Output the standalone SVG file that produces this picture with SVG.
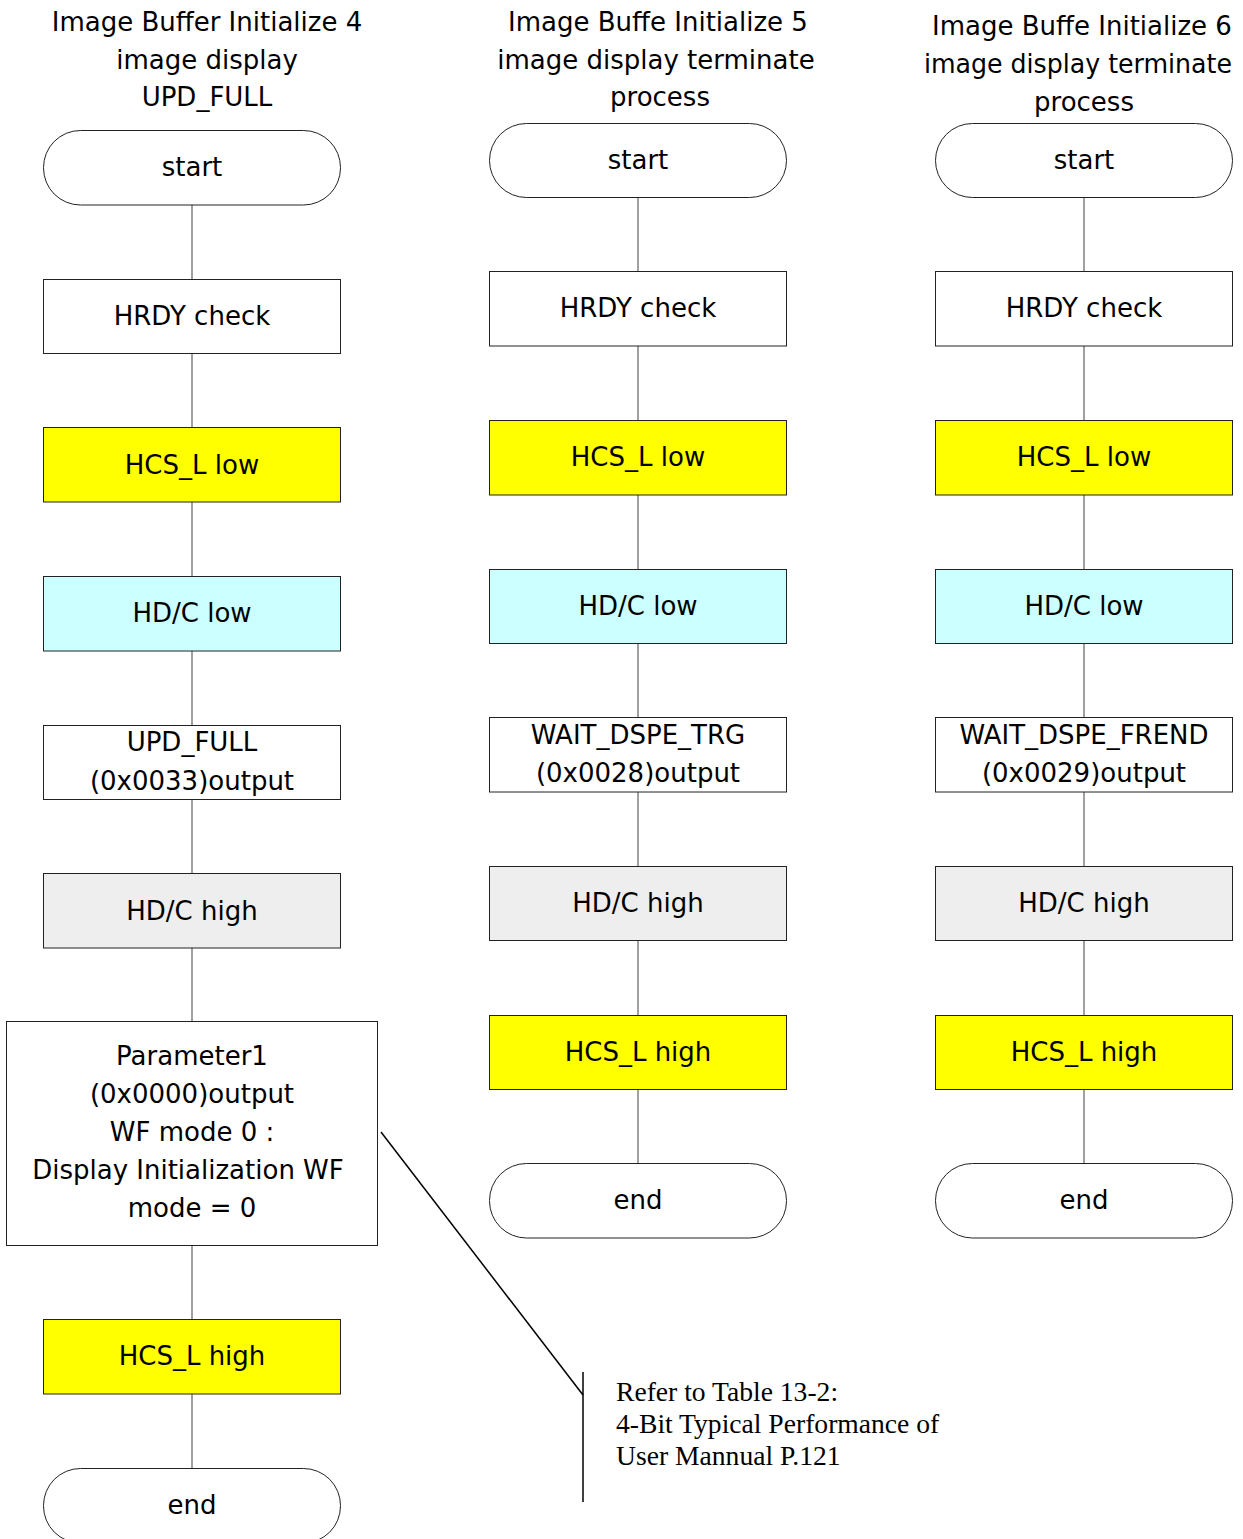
<svg xmlns="http://www.w3.org/2000/svg" width="1243" height="1539" viewBox="0 0 1243 1539">
<style>
.t{font-family:"DejaVu Sans","Liberation Sans",sans-serif;font-size:26px;fill:#000;text-anchor:middle;dominant-baseline:central}
.n{font-family:"Liberation Serif",serif;font-size:27.6px;fill:#000}
.b{stroke:#222;stroke-width:1}
.w{fill:#fff}
.y{fill:#ffff00}
.c{fill:#ccffff}
.g{fill:#eeeeee}
.con line{stroke:#808080;stroke-width:1.5}
</style>
<rect width="1243" height="1539" fill="#fff"/>
<g id="titles">
<text class="t" x="207" y="22">Image Buffer Initialize 4</text>
<text class="t" x="207" y="60">image display</text>
<text class="t" x="207" y="97">UPD_FULL</text>
<text class="t" x="658" y="22">Image Buffe Initialize 5</text>
<text class="t" x="656" y="60">image display terminate</text>
<text class="t" x="660" y="97">process</text>
<text class="t" x="1082" y="26">Image Buffe Initialize 6</text>
<text class="t" x="1078" y="64" textLength="308" lengthAdjust="spacingAndGlyphs">image display terminate</text>
<text class="t" x="1084" y="102">process</text>
</g>
<g class="con" id="connectors">
<line x1="192" y1="205" x2="192" y2="279"/>
<line x1="192" y1="353" x2="192" y2="427"/>
<line x1="192" y1="502" x2="192" y2="576"/>
<line x1="192" y1="651" x2="192" y2="725"/>
<line x1="192" y1="799" x2="192" y2="873"/>
<line x1="192" y1="948" x2="192" y2="1021"/>
<line x1="192" y1="1245" x2="192" y2="1319"/>
<line x1="192" y1="1394" x2="192" y2="1468"/>
<line x1="638" y1="197" x2="638" y2="271"/>
<line x1="638" y1="346" x2="638" y2="420"/>
<line x1="638" y1="495" x2="638" y2="569"/>
<line x1="638" y1="643" x2="638" y2="717"/>
<line x1="638" y1="792" x2="638" y2="866"/>
<line x1="638" y1="940" x2="638" y2="1015"/>
<line x1="638" y1="1089" x2="638" y2="1163"/>
<line x1="1084" y1="197" x2="1084" y2="271"/>
<line x1="1084" y1="346" x2="1084" y2="420"/>
<line x1="1084" y1="495" x2="1084" y2="569"/>
<line x1="1084" y1="643" x2="1084" y2="717"/>
<line x1="1084" y1="792" x2="1084" y2="866"/>
<line x1="1084" y1="940" x2="1084" y2="1015"/>
<line x1="1084" y1="1089" x2="1084" y2="1163"/>
</g>
<g id="c1-start"><rect class="b w" x="43.5" y="130.5" width="297" height="74.5" rx="37" ry="37"/><text class="t" x="192" y="167">start</text></g>
<g id="c1-hrdy"><rect class="b w" x="43.5" y="279.5" width="297" height="74"/><text class="t" x="192" y="316">HRDY check</text></g>
<g id="c1-hcslow"><rect class="b y" x="43.5" y="427.5" width="297" height="74.5"/><text class="t" x="192" y="465">HCS_L low</text></g>
<g id="c1-hdclow"><rect class="b c" x="43.5" y="576.5" width="297" height="74.5"/><text class="t" x="192" y="613">HD/C low</text></g>
<g id="c1-upd"><rect class="b w" x="43.5" y="725.5" width="297" height="74"/><text class="t" x="192" y="742">UPD_FULL</text><text class="t" x="192" y="781">(0x0033)output</text></g>
<g id="c1-hdchigh"><rect class="b g" x="43.5" y="873.5" width="297" height="74.5"/><text class="t" x="192" y="911">HD/C high</text></g>
<g id="c1-param"><rect class="b w" x="6.5" y="1021.5" width="371" height="224"/>
<text class="t" x="192" y="1056">Parameter1</text>
<text class="t" x="192" y="1094">(0x0000)output</text>
<text class="t" x="192" y="1132">WF mode 0 :</text>
<text class="t" x="188" y="1170">Display Initialization WF</text>
<text class="t" x="192" y="1208">mode = 0</text></g>
<g id="c1-hcshigh"><rect class="b y" x="43.5" y="1319.5" width="297" height="74.5"/><text class="t" x="192" y="1356">HCS_L high</text></g>
<g id="c1-end"><rect class="b w" x="43.5" y="1468.5" width="297" height="74.5" rx="37" ry="37"/><text class="t" x="192" y="1505">end</text></g>

<g id="c2-start"><rect class="b w" x="489.5" y="123.5" width="297" height="74" rx="37" ry="37"/><text class="t" x="638" y="160">start</text></g>
<g id="c2-hrdy"><rect class="b w" x="489.5" y="271.5" width="297" height="74.5"/><text class="t" x="638" y="308">HRDY check</text></g>
<g id="c2-hcslow"><rect class="b y" x="489.5" y="420.5" width="297" height="74.5"/><text class="t" x="638" y="457">HCS_L low</text></g>
<g id="c2-hdclow"><rect class="b c" x="489.5" y="569.5" width="297" height="74"/><text class="t" x="638" y="606">HD/C low</text></g>
<g id="c2-wait"><rect class="b w" x="489.5" y="717.5" width="297" height="74.5"/><text class="t" x="638" y="735">WAIT_DSPE_TRG</text><text class="t" x="638" y="773">(0x0028)output</text></g>
<g id="c2-hdchigh"><rect class="b g" x="489.5" y="866.5" width="297" height="74"/><text class="t" x="638" y="903">HD/C high</text></g>
<g id="c2-hcshigh"><rect class="b y" x="489.5" y="1015.5" width="297" height="74"/><text class="t" x="638" y="1052">HCS_L high</text></g>
<g id="c2-end"><rect class="b w" x="489.5" y="1163.5" width="297" height="74.5" rx="37" ry="37"/><text class="t" x="638" y="1200">end</text></g>

<g id="c3-start"><rect class="b w" x="935.5" y="123.5" width="297" height="74" rx="37" ry="37"/><text class="t" x="1084" y="160">start</text></g>
<g id="c3-hrdy"><rect class="b w" x="935.5" y="271.5" width="297" height="74.5"/><text class="t" x="1084" y="308">HRDY check</text></g>
<g id="c3-hcslow"><rect class="b y" x="935.5" y="420.5" width="297" height="74.5"/><text class="t" x="1084" y="457">HCS_L low</text></g>
<g id="c3-hdclow"><rect class="b c" x="935.5" y="569.5" width="297" height="74"/><text class="t" x="1084" y="606">HD/C low</text></g>
<g id="c3-wait"><rect class="b w" x="935.5" y="717.5" width="297" height="74.5"/><text class="t" x="1084" y="735">WAIT_DSPE_FREND</text><text class="t" x="1084" y="773">(0x0029)output</text></g>
<g id="c3-hdchigh"><rect class="b g" x="935.5" y="866.5" width="297" height="74"/><text class="t" x="1084" y="903">HD/C high</text></g>
<g id="c3-hcshigh"><rect class="b y" x="935.5" y="1015.5" width="297" height="74"/><text class="t" x="1084" y="1052">HCS_L high</text></g>
<g id="c3-end"><rect class="b w" x="935.5" y="1163.5" width="297" height="74.5" rx="37" ry="37"/><text class="t" x="1084" y="1200">end</text></g>

<g id="note">
<polyline points="381,1132 583,1395" fill="none" stroke="#000" stroke-width="1.5"/>
<line x1="583" y1="1372" x2="583" y2="1502" stroke="#000" stroke-width="1.5"/>
<text class="n" x="616" y="1401">Refer to Table 13-2:</text>
<text class="n" x="616" y="1433">4-Bit Typical Performance of</text>
<text class="n" x="616" y="1465">User Mannual P.121</text>
</g>
</svg>
